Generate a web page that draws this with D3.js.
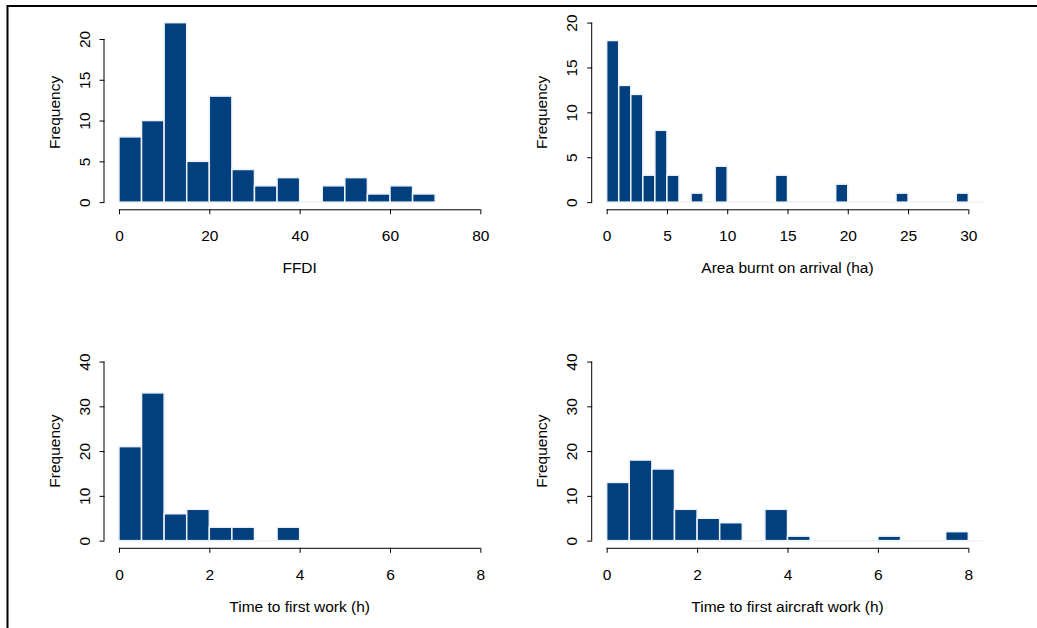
<!DOCTYPE html>
<html>
<head>
<meta charset="utf-8">
<script src="https://cdn.jsdelivr.net/npm/d3@7"></script>
<style>
  html, body { margin: 0; padding: 0; background: #fff; }
  svg text { font-family: "Liberation Sans", Arial, Helvetica, sans-serif; }
</style>
</head>
<body>
<svg id="chart" width="1037" height="628"></svg>
<script>
// ---------- data ----------
const ffdiBinWidth = 5;
const ffdiCounts = [8, 10, 22, 5, 13, 4, 2, 3, 0, 2, 3, 1, 2, 1];
const ffdiXTicks = [0, 20, 40, 60, 80];
const ffdiYTicks = [0, 5, 10, 15, 20];

const areaBinWidth = 1;
const areaCounts = [18, 13, 12, 3, 8, 3, 0, 1, 0, 4, 0, 0, 0, 0, 3, 0, 0, 0, 0, 2, 0, 0, 0, 0, 1, 0, 0, 0, 0, 1];
const areaXTicks = [0, 5, 10, 15, 20, 25, 30];
const areaYTicks = [0, 5, 10, 15, 20];

const workBinWidth = 0.5;
const workCounts = [21, 33, 6, 7, 3, 3, 0, 3];
const workXTicks = [0, 2, 4, 6, 8];
const workYTicks = [0, 10, 20, 30, 40];

const aircraftBinWidth = 0.5;
const aircraftCounts = [13, 18, 16, 7, 5, 4, 0, 7, 1, 0, 0, 0, 1, 0, 0, 2];
const aircraftXTicks = [0, 2, 4, 6, 8];
const aircraftYTicks = [0, 10, 20, 30, 40];

const xLabels = ["FFDI", "Area burnt on arrival (ha)", "Time to first work (h)", "Time to first aircraft work (h)"];
const yLabel = "Frequency";

// ---------- layout ----------
const svg = d3.select("#chart");
const FS = 15.5;
const barFill = "#023f7e";
const barStroke = "#eef3f9";

const panels = [
  { counts: ffdiCounts, bw: ffdiBinWidth, xt: ffdiXTicks, yt: ffdiYTicks, xlab: xLabels[0],
    box: { l: 104.5, r: 494.8, t: 15.5, b: 209.3 }, ylim: [0, 22], fullBase: false },
  { counts: areaCounts, bw: areaBinWidth, xt: areaXTicks, yt: areaYTicks, xlab: xLabels[1],
    box: { l: 592.2, r: 982.8, t: 15.4, b: 209.3 }, ylim: [0, 20], fullBase: true },
  { counts: workCounts, bw: workBinWidth, xt: workXTicks, yt: workYTicks, xlab: xLabels[2],
    box: { l: 104.5, r: 494.8, t: 354.4, b: 547.8 }, ylim: [0, 40], fullBase: false },
  { counts: aircraftCounts, bw: aircraftBinWidth, xt: aircraftXTicks, yt: aircraftYTicks, xlab: xLabels[3],
    box: { l: 592.2, r: 982.8, t: 354.4, b: 547.8 }, ylim: [0, 40], fullBase: true }
];

// outer frame (top and left lines)
svg.append("path")
  .attr("d", "M7.5,628 L7.5,6 L1037,6")
  .attr("fill", "none").attr("stroke", "#000").attr("stroke-width", 2);

panels.forEach(p => {
  const xmin = d3.min(p.xt), xmax = d3.max(p.xt);
  const xe = 0.04 * (xmax - xmin);
  const ye = 0.04 * (p.ylim[1] - p.ylim[0]);
  const x = d3.scaleLinear().domain([xmin - xe, xmax + xe]).range([p.box.l, p.box.r]);
  const y = d3.scaleLinear().domain([p.ylim[0] - ye, p.ylim[1] + ye]).range([p.box.b, p.box.t]);

  const g = svg.append("g");
  const bins = p.counts.map((c, i) => ({ x0: i * p.bw, x1: (i + 1) * p.bw, c }));

  // faint baseline
  const baseEnd = p.fullBase ? p.box.r : x(bins[bins.length - 1].x1);
  g.append("line")
    .attr("x1", x(0)).attr("x2", baseEnd)
    .attr("y1", y(0)).attr("y2", y(0))
    .attr("stroke", barStroke).attr("stroke-width", 1.5);

  g.selectAll("rect.bar").data(bins.filter(d => d.c > 0)).join("rect")
    .attr("class", "bar")
    .attr("x", d => x(d.x0))
    .attr("width", d => x(d.x1) - x(d.x0))
    .attr("y", d => y(d.c))
    .attr("height", d => y(0) - y(d.c))
    .attr("fill", barFill)
    .attr("stroke", barStroke)
    .attr("stroke-width", 1.5);

  // x axis
  const xa = g.append("g").attr("transform", `translate(0,${p.box.b})`)
    .call(d3.axisBottom(x).tickValues(p.xt).tickSize(5).tickSizeOuter(0).tickPadding(0));
  xa.select(".domain").attr("d", `M${x(xmin)},0.5H${x(xmax)}`).attr("stroke", "#000");
  xa.selectAll(".tick line").attr("stroke", "#000");
  xa.selectAll(".tick text").text(d => d)
    .attr("y", 32).attr("dy", null)
    .attr("font-size", FS).attr("fill", "#000")
    .attr("font-family", "Liberation Sans, Arial, sans-serif");

  // y axis
  const ymaxT = d3.max(p.yt);
  const ya = g.append("g").attr("transform", `translate(${p.box.l},0)`)
    .call(d3.axisLeft(y).tickValues(p.yt).tickSize(5).tickSizeOuter(0));
  ya.select(".domain").attr("d", `M-0.5,${y(0)}V${y(ymaxT)}`).attr("stroke", "#000");
  ya.selectAll(".tick line").attr("stroke", "#000");
  ya.selectAll(".tick text")
    .text(d => d)
    .attr("x", null).attr("dy", null)
    .attr("text-anchor", "middle")
    .attr("transform", "translate(-15,0) rotate(-90)")
    .attr("font-size", FS).attr("fill", "#000")
    .attr("font-family", "Liberation Sans, Arial, sans-serif");

  // labels
  g.append("text")
    .attr("x", (p.box.l + p.box.r) / 2).attr("y", p.box.b + 64)
    .attr("text-anchor", "middle").attr("font-size", FS).attr("fill", "#000")
    .text(p.xlab);
  g.append("text")
    .attr("transform", `translate(${p.box.l - 45},${(p.box.t + p.box.b) / 2}) rotate(-90)`)
    .attr("text-anchor", "middle").attr("font-size", FS).attr("fill", "#000")
    .text(yLabel);
});
</script>
</body>
</html>
